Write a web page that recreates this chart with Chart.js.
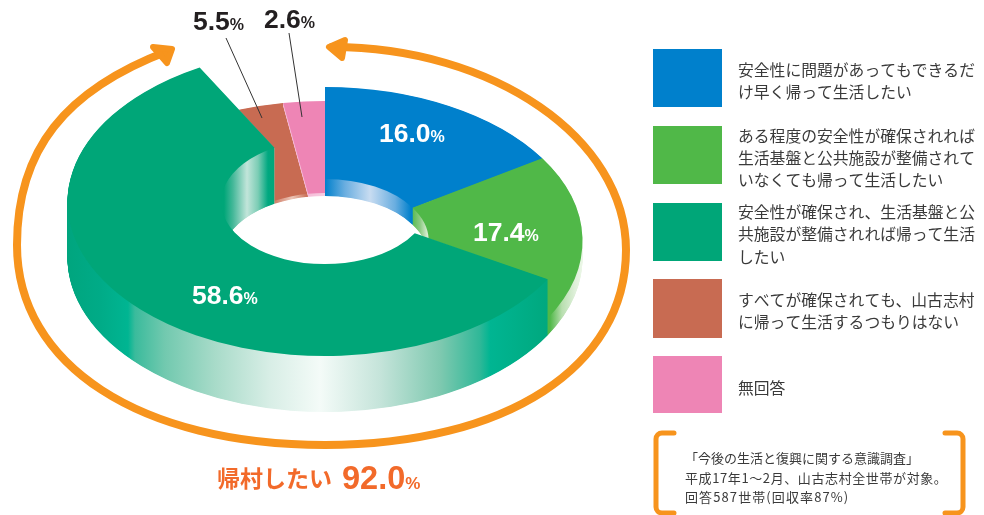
<!DOCTYPE html>
<html lang="ja"><head><meta charset="utf-8">
<style>html,body{margin:0;padding:0;background:#fff}canvas{display:block}</style>
<script src="https://cdn.jsdelivr.net/npm/chart.js@4"></script>
</head><body><canvas id="c" width="984" height="515"></canvas>
<script>
const categories = [
  ["安全性に問題があってもできるだ","け早く帰って生活したい"],
  ["ある程度の安全性が確保されれば","生活基盤と公共施設が整備されて","いなくても帰って生活したい"],
  ["安全性が確保され、生活基盤と公","共施設が整備されれば帰って生活","したい"],
  ["すべてが確保されても、山古志村","に帰って生活するつもりはない"],
  ["無回答"]
];
const values = [16.0, 17.4, 58.6, 5.5, 2.6];
const colors = ["#0080cc", "#50b848", "#00a678", "#c86b52", "#ee85b5"];
const noteLines = ["「今後の生活と復興に関する意識調査」","平成17年1〜2月、山古志村全世帯が対象。","回答587世帯(回収率87%)"];
const totalLabel = "帰村したい";
const totalValue = 92.0;

const BASE_Y = 258, SQUASH = 0.598;
const sliceLift = [17, 17, 56, 3, 3];
const drawOrder = [3, 4, 0, 1, 2];
const wallStops = [
  [[325,"#0080cc"],[345,"#6aaee0"],[370,"#c8dcf1"],[395,"#6aaee0"],[411,"#0080cc"]],
  [[411,"#50b848"],[420,"#8ccb82"],[428,"#e0f0da"],[440,"#50b848"],[550,"#50b848"],[562,"#b9dfb0"],[575,"#dff0da"],[584,"#eef8ea"]],
  [[66,"#00a57e"],[100,"#00ab87"],[128,"#00b592"],[135,"#3abb9c"],[165,"#72c9af"],[215,"#a8dbc9"],[270,"#d8eee6"],[320,"#f4fbf8"],[380,"#c5e4da"],[440,"#7fc9b0"],[480,"#2fb898"],[490,"#00b592"],[548,"#00a87e"]],
  [[270,"#c86b52"],[292,"#ecc6b8"],[308,"#c86b52"]],
  [[308,"#f6bcd8"],[325,"#f6cfe2"]]
];
const holeWallStops = [[224,"#00a678"],[233,"#45b899"],[247,"#c2e5da"],[258,"#7ccdb5"],[268,"#00a880"],[276,"#00a678"]];

function gradientFrom(ctx, stops) {
  const a = stops[0][0], b = stops[stops.length-1][0];
  const g = ctx.createLinearGradient(a,0,b,0);
  stops.forEach(s => g.addColorStop((s[0]-a)/(b-a), s[1]));
  return g;
}
function paintArc(ctx, arc, lift, fill, cy) {
  const p = Object.create(arc);
  p.options = Object.assign({}, arc.options, {backgroundColor: fill, borderWidth: 0});
  ctx.save();
  ctx.translate(0, BASE_Y - lift);
  ctx.scale(1, SQUASH);
  ctx.translate(0, -cy);
  p.draw(ctx);
  ctx.restore();
}
const solidPie = {
  id: "solidPie",
  beforeDatasetsDraw(chart) {
    const ctx = chart.ctx, arcs = chart.getDatasetMeta(0).data;
    drawOrder.forEach(i => {
      const arc = arcs[i], h = sliceLift[i], wall = gradientFrom(ctx, wallStops[i]);
      for (let l = 0; l < h; l += 0.5) paintArc(ctx, arc, l, wall, arc.y);
      if (i === 2) {
        ctx.save();
        ctx.beginPath(); ctx.rect(200,130,110,110); ctx.clip();
        const hw = gradientFrom(ctx, holeWallStops);
        for (let l = 0; l < h; l += 0.5) paintArc(ctx, arc, l, hw, arc.y);
        ctx.restore();
      }
      paintArc(ctx, arc, h, colors[i], arc.y);
    });
    return false;
  },
  afterDraw(chart) {
    const ctx = chart.ctx;
    // orange arrows
    ctx.save();
    ctx.strokeStyle = "#f7941d"; ctx.fillStyle = "#f7941d"; ctx.lineWidth = 8; ctx.lineCap = "round"; ctx.lineJoin = "round";
    ctx.beginPath(); ctx.moveTo(332,47);
    ctx.bezierCurveTo(493,47,626,138,626,250);
    ctx.bezierCurveTo(626,367,506,445,325,445);
    ctx.bezierCurveTo(140,445,17,365,17,245);
    ctx.bezierCurveTo(17,150,65,90,168,51);
    ctx.stroke();
    ctx.lineWidth = 6;
    ctx.beginPath(); ctx.moveTo(329,47); ctx.lineTo(345,40); ctx.lineTo(342,58); ctx.closePath(); ctx.fill(); ctx.stroke();
    ctx.beginPath(); ctx.moveTo(172,49); ctx.lineTo(153,47); ctx.lineTo(167,63); ctx.closePath(); ctx.fill(); ctx.stroke();
    // leaders
    ctx.strokeStyle = "#333"; ctx.lineWidth = 1; ctx.lineCap = "butt";
    ctx.beginPath(); ctx.moveTo(226,38); ctx.lineTo(262,118); ctx.moveTo(289,33); ctx.lineTo(302,117); ctx.stroke();
    // percentage labels
    const label = (v, x, y, col, big, small) => {
      ctx.fillStyle = col; ctx.textAlign = "left"; ctx.textBaseline = "alphabetic";
      const s = v.toFixed(1);
      ctx.font = "bold "+big+"px 'Liberation Sans'";
      ctx.fillText(s, x, y);
      const w = ctx.measureText(s).width;
      ctx.font = "bold "+small+"px 'Liberation Sans'";
      ctx.fillText("%", x+w, y);
    };
    label(values[0], 379, 142, "#fff", 26.5, 16);
    label(values[1], 473, 241, "#fff", 26.5, 16);
    label(values[2], 192, 304, "#fff", 26.5, 16);
    label(values[3], 193, 30, "#231f20", 26.5, 16);
    label(values[4], 264, 28, "#231f20", 26.5, 16);
    // total
    ctx.fillStyle = "#f26a2a";
    ctx.font = "bold 23px 'Noto Sans CJK JP'"; ctx.textBaseline = "alphabetic"; ctx.textAlign = "left";
    ctx.fillText(totalLabel, 217, 487);
    label(totalValue, 342, 489, "#f26a2a", 32.5, 17);
    // legend
    const swatchY = [49,126,203,279,356], swatchH = [58,58,58,59,57];
    const lineY = [[70,92],[136,158,180],[212,234,257],[300,322],[388]];
    ctx.font = "15.8px 'Noto Sans CJK JP'"; ctx.textBaseline = "middle";
    categories.forEach((lines, i) => {
      ctx.fillStyle = colors[i]; ctx.fillRect(653, swatchY[i], 69, swatchH[i]);
      ctx.fillStyle = "#3a3a3a";
      lines.forEach((t, j) => ctx.fillText(t, 738, lineY[i][j]));
    });
    // note
    ctx.strokeStyle = "#f7941d"; ctx.lineWidth = 5; ctx.lineCap = "round"; ctx.lineJoin = "round";
    ctx.beginPath(); ctx.moveTo(674,433); ctx.arcTo(656,433,656,451,6); ctx.arcTo(656,513,674,513,6); ctx.lineTo(674,513); ctx.stroke();
    ctx.beginPath(); ctx.moveTo(945,433); ctx.arcTo(963,433,963,451,6); ctx.arcTo(963,513,945,513,6); ctx.lineTo(945,513); ctx.stroke();
    ctx.fillStyle = "#3a3a3a"; ctx.font = "13px 'Noto Sans CJK JP'";
    const noteY = [458,478,497], noteSpacing = ["0px","0.6px","1.1px"];
    noteLines.forEach((t,i) => { ctx.letterSpacing = noteSpacing[i]; ctx.fillText(t, 685, noteY[i]); });
    ctx.letterSpacing = "0px";
    ctx.restore();
  }
};
new Chart(document.getElementById("c"), {
  type: "doughnut",
  data: { labels: categories.map(l => l.join("")), datasets: [{ data: values, backgroundColor: colors, borderWidth: 0 }] },
  options: {
    responsive: false, animation: false, cutout: "40.3%", rotation: 0,
    layout: { padding: { left: 67, right: 401, top: 0, bottom: 0 } },
    plugins: { legend: { display: false }, tooltip: { enabled: false } }
  },
  plugins: [solidPie]
});
</script></body></html>
